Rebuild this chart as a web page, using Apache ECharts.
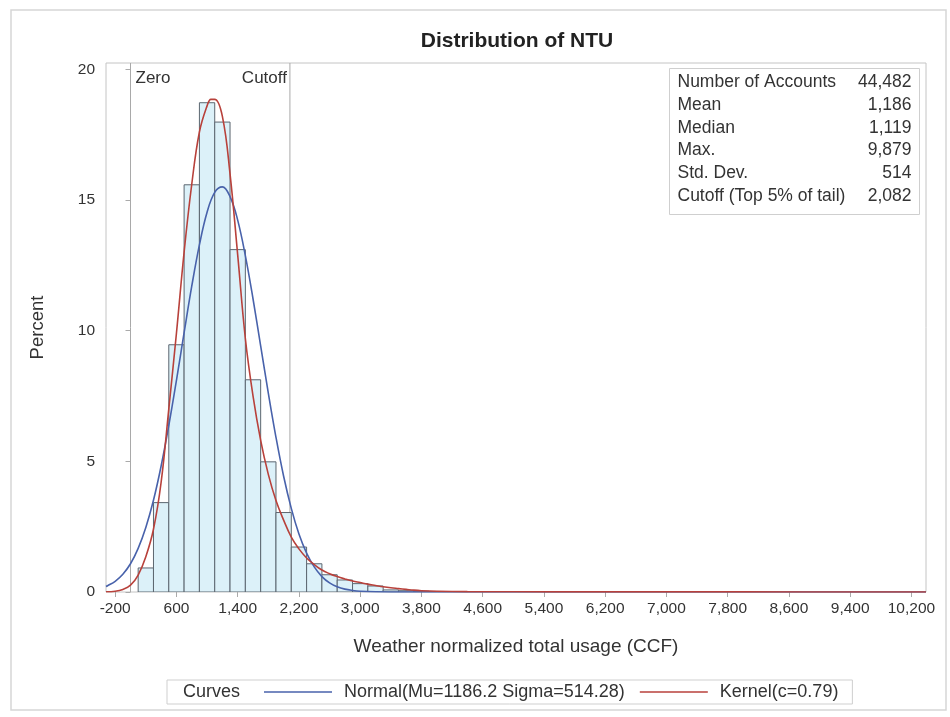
<!DOCTYPE html>
<html>
<head>
<meta charset="utf-8">
<script src="https://cdn.jsdelivr.net/npm/echarts@6/dist/echarts.min.js"></script>
<style>
  html, body { margin: 0; padding: 0; background: #ffffff; }
  #chart { width: 950px; height: 717px; }
</style>
</head>
<body>
<div id="chart"></div>
<script>
// Histogram of weather normalized total usage: bins of 200 CCF (lower edges) and percent of accounts
const binWidth = 200;
const binStart = [100, 300, 500, 700, 900, 1100, 1300, 1500, 1700, 1900, 2100, 2300, 2500, 2700, 2900, 3100, 3300, 3500, 3700, 3900, 4100, 4300, 4500];
const binPercent = [0.92, 3.42, 9.46, 15.58, 18.72, 17.98, 13.10, 8.12, 4.98, 3.04, 1.72, 1.08, 0.66, 0.46, 0.32, 0.23, 0.08, 0.05, 0.03, 0.02, 0.01, 0.01, 0.01];

// Fitted normal curve (percent scale)
const normalX = [-320, -300, -200, -100, 0, 100, 200, 300, 400, 500, 600, 700, 800, 900, 1000, 1100, 1200, 1300, 1400, 1500, 1600, 1700, 1800, 1900, 2000, 2100, 2200, 2300, 2400, 2500, 2600, 2700, 2800, 2900, 3000, 3200, 3600, 10390];
const normalY = [0.21, 0.24, 0.41, 0.68, 1.08, 1.67, 2.47, 3.51, 4.82, 6.37, 8.10, 9.92, 11.70, 13.28, 14.53, 15.29, 15.50, 15.13, 14.23, 12.87, 11.22, 9.42, 7.61, 5.92, 4.43, 3.20, 2.22, 1.49, 0.96, 0.59, 0.35, 0.20, 0.11, 0.06, 0.03, 0.01, 0, 0];

// Kernel density curve (percent scale)
const kernelX = [-320, -200, -100, 0, 100, 200, 300, 400, 500, 600, 700, 800, 900, 1000, 1050, 1100, 1200, 1300, 1400, 1500, 1600, 1700, 1800, 1900, 2000, 2100, 2200, 2300, 2400, 2500, 2600, 2700, 2800, 2900, 3000, 3100, 3200, 3300, 3400, 3500, 3600, 3700, 3800, 4000, 4400, 5000, 6000, 8000, 10390];
const kernelY = [0.01, 0.03, 0.10, 0.26, 0.65, 1.35, 2.40, 4.20, 7.00, 9.90, 13.00, 15.60, 17.60, 18.60, 18.85, 18.85, 18.20, 16.00, 12.90, 9.70, 7.50, 5.80, 4.50, 3.50, 2.75, 2.10, 1.65, 1.30, 1.05, 0.84, 0.70, 0.59, 0.50, 0.42, 0.36, 0.30, 0.25, 0.20, 0.16, 0.13, 0.10, 0.07, 0.05, 0.03, 0.015, 0.008, 0.005, 0.003, 0.002];

// Axis ticks
const xTicks = [-200, 600, 1400, 2200, 3000, 3800, 4600, 5400, 6200, 7000, 7800, 8600, 9400, 10200];
const yTicks = [0, 5, 10, 15, 20];

// Reference lines
const refValues = [0, 2082];
const refLabels = ['Zero', 'Cutoff'];

// Summary statistics inset
const statLabels = ['Number of Accounts', 'Mean', 'Median', 'Max.', 'Std. Dev.', 'Cutoff (Top 5% of tail)'];
const statValues = ['44,482', '1,186', '1,119', '9,879', '514', '2,082'];

const normalName = 'Normal(Mu=1186.2 Sigma=514.28)';
const kernelName = 'Kernel(c=0.79)';

const FONT = '"Liberation Sans", Arial, sans-serif';
const TEXT = '#333333';
const X_MIN = -320, X_MAX = 10390, Y_MIN = 0, Y_MAX = 20.24;

const chart = echarts.init(document.getElementById('chart'), null, { renderer: 'canvas' });

const fmt = v => v.toLocaleString('en-US');

// Stats inset drawn as a bordered table
const tableLeft = 669, tableTop = 68, tableW = 250, tableH = 146, rowH = 22.7;
const tableChildren = [{
  type: 'rect',
  shape: { x: 0, y: 0, width: tableW, height: tableH },
  style: { fill: '#ffffff', stroke: '#cfcfcf', lineWidth: 1 }
}];
statLabels.forEach((lab, i) => {
  const cy = 14 + i * rowH;
  tableChildren.push({
    type: 'text', x: 8, y: cy,
    style: { text: lab, fill: TEXT, font: '17.5px ' + FONT, textAlign: 'left', textVerticalAlign: 'middle' }
  });
  tableChildren.push({
    type: 'text', x: tableW - 8, y: cy,
    style: { text: statValues[i], fill: TEXT, font: '17.5px ' + FONT, textAlign: 'right', textVerticalAlign: 'middle' }
  });
});

const option = {
  backgroundColor: '#ffffff',
  animation: false,
  title: {
    text: 'Distribution of NTU',
    left: 512, top: 26, textAlign: 'center',
    textStyle: { fontFamily: FONT, fontSize: 21, fontWeight: 'bold', color: '#222222' }
  },
  grid: {
    left: 106, top: 63, right: 24, bottom: 125,
    containLabel: false, outerBoundsMode: 'none',
    show: true, borderColor: '#c4c4c4', borderWidth: 1, backgroundColor: 'transparent'
  },
  legend: {
    data: [
      { name: normalName, icon: 'rect' },
      { name: kernelName, icon: 'rect' }
    ],
    left: 167, top: 680,
    orient: 'horizontal',
    padding: [3, 14, 3, 97],
    itemWidth: 68, itemHeight: 1.6, itemGap: 15,
    borderColor: '#cfcfcf', borderWidth: 1,
    textStyle: { fontFamily: FONT, fontSize: 18, color: TEXT, padding: [0, 0, 0, 7] },
    selectedMode: false
  },
  xAxis: {
    type: 'value', min: X_MIN, max: X_MAX,
    name: 'Weather normalized total usage (CCF)',
    nameLocation: 'middle', nameGap: 45,
    nameTextStyle: { fontFamily: FONT, fontSize: 19, color: TEXT },
    axisLine: { show: false },
    axisTick: { show: true, inside: false, length: 5, customValues: xTicks, lineStyle: { color: '#aaaaaa' } },
    axisLabel: { customValues: xTicks, formatter: v => fmt(v), margin: 9, fontFamily: FONT, fontSize: 15.5, color: TEXT },
    splitLine: { show: false }
  },
  yAxis: {
    type: 'value', min: Y_MIN, max: Y_MAX,
    name: 'Percent',
    nameLocation: 'middle', nameGap: 59, nameRotate: 90,
    nameTextStyle: { fontFamily: FONT, fontSize: 18.5, color: TEXT },
    axisLine: { show: false },
    axisTick: { show: true, inside: false, length: 5, customValues: yTicks, lineStyle: { color: '#aaaaaa' } },
    axisLabel: { customValues: yTicks, margin: 11, fontFamily: FONT, fontSize: 15.5, color: TEXT },
    splitLine: { show: false }
  },
  graphic: [
    {
      type: 'rect', silent: true, z: -10,
      shape: { x: 11, y: 10, width: 935, height: 700 },
      style: { fill: 'none', stroke: '#d6d6d6', lineWidth: 1.5 }
    },
    {
      type: 'text', left: 183, top: 683,
      style: { text: 'Curves', fill: TEXT, font: '18px ' + FONT }
    },
    {
      type: 'group', left: tableLeft, top: tableTop, z: 100,
      children: tableChildren
    }
  ],
  series: [
    {
      name: 'Histogram',
      type: 'custom',
      data: binStart.map((s, i) => [s, binPercent[i]]),
      encode: { x: 0, y: 1 },
      clip: true,
      z: 2,
      renderItem: function (params, api) {
        const x0 = api.value(0);
        const v = api.value(1);
        const pTop = api.coord([x0, v]);
        const pBot = api.coord([x0 + binWidth, 0]);
        return {
          type: 'rect',
          shape: { x: pTop[0], y: pTop[1], width: pBot[0] - pTop[0], height: pBot[1] - pTop[1] },
          style: { fill: '#dcf1f9', stroke: '#5c6670', lineWidth: 1 }
        };
      }
    },
    {
      name: 'Reference',
      type: 'custom',
      data: refValues.map(v => [v, 0]),
      encode: { x: 0, y: 1 },
      z: 1,
      renderItem: function (params, api) {
        const px = api.coord([api.value(0), 0])[0];
        const cs = params.coordSys;
        const onRight = params.dataIndex === 0;
        return {
          type: 'group',
          children: [
            {
              type: 'line',
              shape: { x1: px, y1: cs.y, x2: px, y2: cs.y + cs.height },
              style: { stroke: '#a9a9a9', lineWidth: 1 }
            },
            {
              type: 'text',
              x: onRight ? px + 5 : px - 3,
              y: cs.y + 15,
              style: {
                text: refLabels[params.dataIndex], fill: TEXT, font: '17px ' + FONT,
                textAlign: onRight ? 'left' : 'right', textVerticalAlign: 'middle'
              }
            }
          ]
        };
      }
    },
    {
      name: normalName,
      type: 'line',
      data: normalX.map((x, i) => [x, normalY[i]]),
      symbol: 'none', smooth: 0.4, clip: true, z: 3,
      lineStyle: { color: '#4862ab', width: 1.6 },
      itemStyle: { color: '#4862ab' }
    },
    {
      name: kernelName,
      type: 'line',
      data: kernelX.map((x, i) => [x, kernelY[i]]),
      symbol: 'none', smooth: 0.4, clip: true, z: 4,
      lineStyle: { color: '#b8413b', width: 1.6 },
      itemStyle: { color: '#b8413b' }
    }
  ]
};

chart.setOption(option);
</script>
</body>
</html>
